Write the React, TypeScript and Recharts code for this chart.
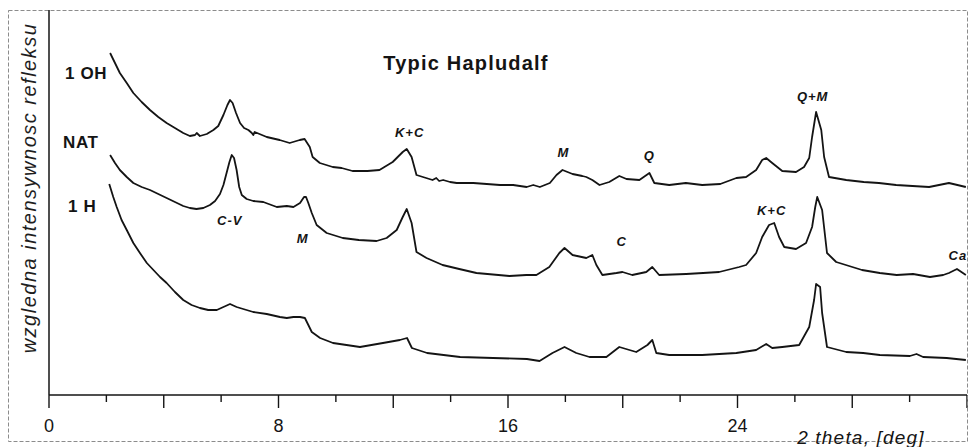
import { LineChart, Line, XAxis, YAxis, ReferenceDot } from "recharts";

// 2θ [deg] / relative intensity pairs for each treatment
const ohTrace: [number, number][] = [
  [2.13, 342], [2.3, 332], [2.47, 322], [2.71, 312], [2.94, 302], [3.23, 293],
  [3.52, 285], [3.81, 278], [4.1, 272], [4.39, 267], [4.68, 262], [4.91, 259],
  [5.09, 260], [5.15, 262], [5.26, 259], [5.5, 261], [5.73, 265], [5.9, 269],
  [6.08, 280], [6.22, 290], [6.31, 295], [6.4, 292], [6.52, 282], [6.66, 272],
  [6.8, 267], [6.95, 265], [7.07, 262], [7.12, 260], [7.17, 263], [7.59, 258],
  [8.04, 255], [8.39, 252], [8.74, 255], [8.91, 256], [9.09, 248], [9.19, 238],
  [9.44, 232], [9.89, 228], [10.2, 227], [10.58, 224], [11.1, 224], [11.52, 225],
  [11.98, 233], [12.33, 243], [12.47, 246], [12.64, 238], [12.81, 220], [13.37, 215],
  [13.5, 217], [13.6, 214], [13.74, 215], [13.98, 213], [14.21, 212], [14.79, 212],
  [15.26, 211], [15.72, 210], [16.18, 210], [16.65, 208], [16.88, 210], [17.11, 208],
  [17.46, 212], [17.69, 220], [17.9, 225], [18.25, 221], [18.59, 219], [18.73, 218],
  [18.94, 215], [19.19, 210], [19.53, 213], [19.88, 219], [20.13, 216], [20.58, 215],
  [20.93, 222], [21.1, 212], [21.62, 210], [22.2, 212], [22.77, 210], [23.4, 211],
  [23.96, 217], [24.3, 218], [24.65, 225], [24.86, 235], [25.0, 237], [25.21, 232],
  [25.56, 224], [26.04, 223], [26.32, 228], [26.5, 237], [26.6, 258], [26.74, 283],
  [26.92, 265], [27.02, 238], [27.19, 218], [27.79, 215], [28.4, 213], [28.93, 212],
  [29.53, 210], [30.1, 209], [30.68, 208], [31.37, 212], [31.96, 208],
];

const natTrace: [number, number][] = [
  [2.13, 240], [2.3, 232], [2.47, 225], [2.71, 218], [2.94, 212], [3.23, 208],
  [3.52, 205], [3.81, 201], [4.1, 197], [4.39, 193], [4.68, 189], [4.91, 187],
  [5.14, 186], [5.38, 187], [5.61, 190], [5.79, 194], [5.96, 201], [6.08, 210],
  [6.19, 222], [6.29, 233], [6.37, 240], [6.45, 237], [6.54, 225], [6.63, 208],
  [6.72, 200], [6.89, 196], [7.12, 194], [7.47, 193], [7.94, 188], [8.29, 189],
  [8.52, 188], [8.75, 192], [8.89, 198], [8.96, 198], [9.04, 192], [9.16, 182],
  [9.33, 170], [9.68, 162], [10.24, 157], [10.8, 155], [11.42, 154], [11.77, 157],
  [12.12, 165], [12.33, 178], [12.47, 186], [12.64, 172], [12.81, 143], [13.16, 137],
  [13.72, 130], [14.3, 126], [14.9, 122], [16.05, 119], [16.64, 120], [16.99, 120],
  [17.44, 128], [17.79, 142], [17.97, 147], [18.25, 140], [18.73, 137], [18.94, 140],
  [19.08, 130], [19.29, 120], [19.78, 122], [19.99, 123], [20.33, 120], [20.82, 123],
  [21.03, 128], [21.27, 120], [22.21, 121], [22.8, 122], [23.36, 123], [24.06, 128],
  [24.3, 130], [24.65, 142], [24.86, 158], [25.1, 170], [25.28, 172], [25.45, 158],
  [25.63, 148], [26.04, 146], [26.39, 152], [26.6, 168], [26.71, 188], [26.78, 198],
  [26.95, 185], [27.12, 142], [27.44, 133], [28.34, 125], [28.96, 122], [29.55, 120],
  [30.12, 121], [30.71, 118], [31.17, 120], [31.37, 122], [31.65, 126], [31.96, 120],
];

const hTrace: [number, number][] = [
  [2.1, 211], [2.24, 198], [2.36, 188], [2.53, 175], [2.71, 165], [2.94, 152],
  [3.17, 142], [3.41, 132], [3.64, 125], [3.87, 118], [4.1, 112], [4.39, 103],
  [4.68, 95], [4.97, 90], [5.26, 87], [5.55, 85], [5.85, 85], [6.08, 88],
  [6.31, 91], [6.54, 88], [6.77, 86], [7.12, 83], [7.59, 81], [8.05, 78],
  [8.29, 77], [8.52, 78], [8.75, 78], [8.92, 77], [9.04, 70], [9.16, 63],
  [9.45, 57], [9.9, 52], [10.84, 48], [11.64, 52], [12.23, 55], [12.48, 57],
  [12.65, 47], [13.18, 42], [14.33, 38], [15.48, 37], [16.66, 36], [17.1, 34],
  [17.55, 42], [17.97, 48], [18.38, 42], [18.84, 38], [19.43, 38], [19.88, 48],
  [20.47, 43], [20.86, 50], [21.03, 55], [21.17, 42], [21.62, 40], [22.77, 40],
  [23.96, 42], [24.65, 45], [25.0, 51], [25.21, 47], [25.56, 48], [26.15, 50],
  [26.5, 68], [26.67, 95], [26.74, 111], [26.88, 108], [26.95, 82], [27.12, 48],
  [27.79, 43], [28.38, 42], [28.96, 40], [30.01, 39], [30.24, 41], [30.47, 38],
  [31.29, 37], [31.96, 35],
];

const thetaTicks = [0, 2, 4, 6, 8, 10, 12, 14, 16, 18, 20, 22, 24, 26, 28, 30, 32];
const labelledTicks = [0, 8, 16, 24];

// mineral reflections: name, 2θ, intensity where the tag sits
const peakTags: { name: string, t: number, v: number }[] = [
  { name: "C-V", t: 6.3, v: 175 },
  { name: "M", t: 8.84, v: 157 },
  { name: "K+C", t: 12.57, v: 263 },
  { name: "M", t: 17.93, v: 243 },
  { name: "Q", t: 20.93, v: 240 },
  { name: "C", t: 19.96, v: 154 },
  { name: "K+C", t: 25.19, v: 185 },
  { name: "Q+M", t: 26.62, v: 299 },
  { name: "Ca", t: 31.68, v: 140 },
];

const toRows = (trace: [number, number][]) => trace.map(([t, v]) => ({ t, v }));

const FONT = "'Liberation Sans', Arial, Helvetica, sans-serif";
const INK = "#141414";

function ThetaTick(props: any) {
  const { x, y, payload } = props;
  const value = payload.value as number;
  const long = value % 4 === 0;
  return (
    <g>
      <line x1={x} x2={x} y1={y} y2={y + (long ? 13 : 7)} stroke={INK} strokeWidth={1.4} />
      {labelledTicks.includes(value) && (
        <text
          x={x}
          y={y + 31}
          textAnchor="middle"
          dominantBaseline="central"
          fontFamily={FONT}
          fontSize={18}
          fill={INK}
        >
          {value}
        </text>
      )}
    </g>
  );
}

export default function App() {
  return (
    <div style={{ position: "absolute", left: 0, top: 0, width: 970, height: 447, background: "#fff" }}>
      <LineChart
        width={970}
        height={447}
        margin={{ top: 10, right: 3, bottom: 0, left: 49 }}
      >
        <XAxis
          dataKey="t"
          type="number"
          domain={[0, 32]}
          ticks={thetaTicks}
          interval={0}
          height={52}
          tickSize={0}
          tickMargin={0}
          tickLine={false}
          tick={<ThetaTick />}
          axisLine={{ stroke: INK, strokeWidth: 1.5 }}
          allowDataOverflow
        />
        <YAxis
          type="number"
          domain={[0, 385]}
          width={0}
          tick={false}
          tickLine={false}
          axisLine={{ stroke: INK, strokeWidth: 1.5 }}
          allowDataOverflow
        />
        <Line data={toRows(ohTrace)} dataKey="v" type="linear" stroke={INK} strokeWidth={1.8} strokeLinejoin="round" dot={false} isAnimationActive={false} />
        <Line data={toRows(natTrace)} dataKey="v" type="linear" stroke={INK} strokeWidth={1.8} strokeLinejoin="round" dot={false} isAnimationActive={false} />
        <Line data={toRows(hTrace)} dataKey="v" type="linear" stroke={INK} strokeWidth={1.8} strokeLinejoin="round" dot={false} isAnimationActive={false} />
        {peakTags.map((p, i) => (
          <ReferenceDot
            key={`${p.name}_${i}`}
            x={p.t}
            y={p.v}
            r={0}
            fill="none"
            stroke="none"
            ifOverflow="visible"
            label={{
              value: p.name,
              position: "center",
              fill: INK,
              fontFamily: FONT,
              fontSize: 13,
              fontWeight: 700,
              fontStyle: "italic",
              letterSpacing: 1,
            }}
          />
        ))}
      </LineChart>
      <svg
        width={970}
        height={447}
        style={{ position: "absolute", left: 0, top: 0, pointerEvents: "none" }}
      >
        <rect x={8.5} y={10.5} width={959} height={431} fill="none" stroke="#8c8c8c" strokeWidth={1} strokeDasharray="4 2" />
        <line x1={49} x2={49} y1={10} y2={395} stroke={INK} strokeWidth={1.5} />
        <text
          x={466}
          y={63}
          textAnchor="middle"
          dominantBaseline="central"
          fontFamily={FONT}
          fontSize={20}
          fontWeight={700}
          letterSpacing={1.2}
          fill={INK}
        >
          Typic Hapludalf
        </text>
        <g fontFamily={FONT} fontSize={17} fontWeight={700} letterSpacing={0.6} fill={INK}>
          <text x={65} y={73} dominantBaseline="central">1 OH</text>
          <text x={63} y={142} dominantBaseline="central">NAT</text>
          <text x={68} y={206} dominantBaseline="central">1 H</text>
        </g>
        <text
          transform="translate(29 188) rotate(-90)"
          textAnchor="middle"
          dominantBaseline="central"
          fontFamily={FONT}
          fontSize={20}
          fontStyle="italic"
          letterSpacing={1.5}
          fill="#1e1e1e"
        >
          wzgledna intensywnosc refleksu
        </text>
        <text
          x={861}
          y={437}
          textAnchor="middle"
          dominantBaseline="central"
          fontFamily={FONT}
          fontSize={19}
          fontStyle="italic"
          letterSpacing={1.2}
          fill={INK}
        >
          2 theta, [deg]
        </text>
      </svg>
    </div>
  );
}
